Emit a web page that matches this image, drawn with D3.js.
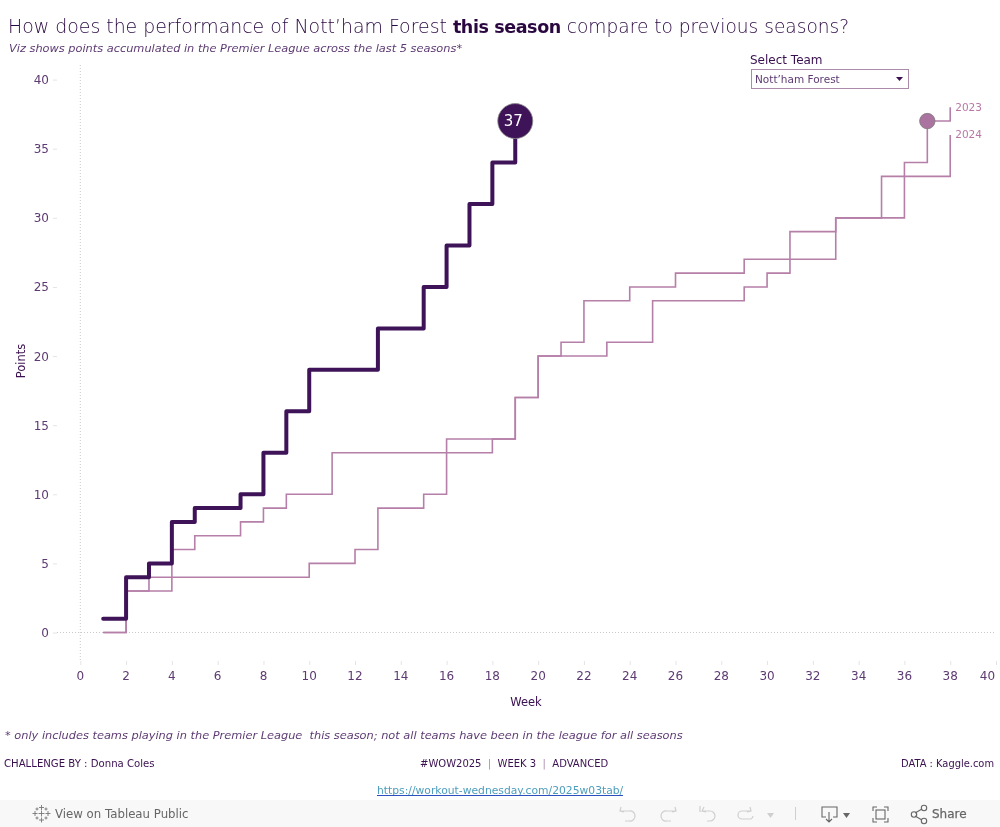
<!DOCTYPE html>
<html><head><meta charset="utf-8">
<script src="https://cdn.jsdelivr.net/npm/d3@7"></script>
<style>
html,body{margin:0;padding:0;background:#fff;overflow:hidden}
svg{display:block;will-change:transform}
text{font-family:"DejaVu Sans",sans-serif;white-space:pre}
</style></head><body>
<svg id="c" width="1000" height="827"></svg>
<script>
const weeks=[1,2,3,4,5,6,7,8,9,10,11,12,13,14,15,16,17,18,19,20,21,22,23,24,25,26,27,28,29,30,31,32,33,34,35,36,37,38];
const points2025=[1,4,5,8,9,9,10,13,16,19,19,19,22,22,25,28,31,34,37];
const points2023=[0,3,4,4,4,4,4,4,4,5,5,6,9,9,10,14,14,14,17,20,20,20,21,21,24,24,24,24,25,26,29,29,30,30,30,34,37,38];
const points2024=[0,3,3,6,7,7,8,9,10,10,13,13,13,13,13,13,13,14,17,20,21,24,24,25,25,26,26,26,27,27,27,27,30,30,33,33,33,36];
const xTicks=d3.range(0,41,2);
const yTicks=[0,5,10,15,20,25,30,35,40];
const dark="#3f1358",mid="#b57fa8",txt="#5d3a72",ink="#3a1050";
const svg=d3.select("#c");
const x=d3.scaleLinear().domain([0,40]).range([80.3,996]);
const y=d3.scaleLinear().domain([0,40]).range([632.5,79.6]);

svg.append("line").attr("x1",x(0)).attr("x2",x(0)).attr("y1",65).attr("y2",660).attr("stroke","#c9c9c9").attr("stroke-dasharray","1 2");
svg.append("line").attr("x1",57).attr("x2",996).attr("y1",y(0)).attr("y2",y(0)).attr("stroke","#c9c9c9").attr("stroke-dasharray","1 2");

const gy=svg.append("g").attr("transform","translate(57,0)").call(d3.axisLeft(y).tickValues(yTicks).tickSize(4).tickPadding(4));
gy.select(".domain").remove();
gy.selectAll("line").attr("stroke","#e4e4e4");
gy.selectAll("text").attr("fill",txt).style("font-size","12px").attr("dy","0.33em");
const gx=svg.append("g").attr("transform","translate(0,661)").call(d3.axisBottom(x).tickValues(xTicks).tickSize(4).tickPadding(6));
gx.select(".domain").remove();
gx.selectAll("line").attr("stroke","#e4e4e4");
gx.selectAll("text").attr("fill",txt).style("font-size","12px").attr("dy","0.71em")
  .attr("x",d=>d===40?-9:-0.5);

const line=d3.line().x((d,i)=>x(weeks[i])).y(d=>y(d)).curve(d3.curveStepAfter);
[points2023,points2024].forEach(s=>{
  svg.append("path").datum(s).attr("d",line).attr("fill","none").attr("stroke",mid).attr("stroke-width",1.6).attr("stroke-linejoin","miter");
});
svg.append("path").datum(points2025).attr("d",line).attr("fill","none").attr("stroke",dark).attr("stroke-width",4).attr("stroke-linecap","round").attr("stroke-linejoin","round");

[["2023",points2023],["2024",points2024]].forEach(([n,s])=>{
  svg.append("text").attr("x",x(38)+5).attr("y",y(s[s.length-1])).attr("dy","0.32em").attr("fill","#b878a6").style("font-size","10.5px").text(n);
});
const li=points2025.length-1;
svg.append("circle").attr("cx",x(weeks[li])).attr("cy",y(points2025[li])).attr("r",17.5).attr("fill",dark).attr("stroke","#8a8a8a").attr("stroke-width",.8);
svg.append("text").attr("x",x(weeks[li])-2).attr("y",y(points2025[li])).attr("dy","0.36em").attr("text-anchor","middle").attr("fill","#fff").style("font-size","15px").text(points2025[li]);
svg.append("circle").attr("cx",x(weeks[36])).attr("cy",y(points2023[36])).attr("r",7.7).attr("fill","#ab739f").attr("stroke","#7b7b7b").attr("stroke-width",.8);

const title=svg.append("text").attr("x",8).attr("y",32.5).attr("fill","#2a0740").style("font-size","18.9px").style("font-weight",200);
title.append("tspan").text("How does the performance of Nott’ham Forest ");
title.append("tspan").style("font-weight",700).style("font-size","17.5px").style("letter-spacing","-0.4px").text("this season");
title.append("tspan").style("font-size","18.6px").text(" compare to previous seasons?");
svg.append("text").attr("x",9).attr("y",52).attr("fill",txt).style("font-size","11.35px").style("font-style","italic").text("Viz shows points accumulated in the Premier League across the last 5 seasons*");

svg.append("text").attr("transform","translate(25,361) rotate(-90)").attr("text-anchor","middle").attr("fill",ink).style("font-size","11.5px").text("Points");
svg.append("text").attr("x",526).attr("y",706).attr("text-anchor","middle").attr("fill",ink).style("font-size","11.5px").text("Week");

svg.append("text").attr("x",750).attr("y",64).attr("fill",ink).style("font-size","12px").text("Select Team");
svg.append("rect").attr("x",751.5).attr("y",69.5).attr("width",157).attr("height",19).attr("fill","#fff").attr("stroke","#ab8aaa");
svg.append("text").attr("x",755).attr("y",83).attr("fill",txt).style("font-size","10.5px").text("Nott’ham Forest");
svg.append("path").attr("d","M896 77h7l-3.5 4z").attr("fill",ink);

svg.append("text").attr("x",5).attr("y",739).attr("fill",txt).style("font-size","11.35px").style("font-style","italic").text("* only includes teams playing in the Premier League  this season; not all teams have been in the league for all seasons");
svg.append("text").attr("x",4).attr("y",767).attr("fill",ink).style("font-size","10.15px").text("CHALLENGE BY : Donna Coles");
const mid2=svg.append("text").attr("x",420).attr("y",767).attr("fill",ink).style("font-size","10px");
mid2.append("tspan").text("#WOW2025  ");
mid2.append("tspan").attr("fill","#ab8aaa").text("|");
mid2.append("tspan").text("  WEEK 3  ");
mid2.append("tspan").attr("fill","#ab8aaa").text("|");
mid2.append("tspan").text("  ADVANCED");
svg.append("text").attr("x",994).attr("y",767).attr("text-anchor","end").attr("fill",ink).style("font-size","9.9px").text("DATA : Kaggle.com");
svg.append("text").attr("x",377).attr("y",794).attr("fill","#4d9dbd").style("font-size","10.75px").text("https://workout-wednesday.com/2025w03tab/");
svg.append("line").attr("x1",377).attr("x2",623).attr("y1",795.5).attr("y2",795.5).attr("stroke","#2b4fbf");

svg.append("rect").attr("x",0).attr("y",800).attr("width",1000).attr("height",27).attr("fill","#f8f8f8");
const lg=svg.append("g").attr("fill","none").attr("stroke","#777").attr("stroke-width",.9);
[[41.5,807.5,2.5],[41.5,820,2.5],[35,813.5,2.5],[48,813.5,2.5],[37,809,1.5],[46,809,1.5],[37,818,1.5],[46,818,1.5],[41.5,813.5,3]].forEach(([a,b,r])=>{
  lg.append("path").attr("d",`M${a-r} ${b}h${2*r}M${a} ${b-r}v${2*r}`);
});
svg.append("text").attr("x",55).attr("y",818).attr("fill","#666").style("font-size","11.75px").text("View on Tableau Public");
const ic=svg.append("g").attr("fill","none").attr("stroke","#cfcfcf").attr("stroke-width",1.2);
ic.append("path").attr("d","M621 807l-1 4 4 1M620 811h9a5 5 0 0 1 6 5 5 5 0 0 1-6 5h-4");
ic.append("path").attr("d","M675 807l1 4-4 1M676 811h-9a5 5 0 0 0-6 5 5 5 0 0 0 6 5h4");
ic.append("path").attr("d","M700 806v6M704 807l-2 4 4 1M702 811h8a5 5 0 0 1 5 5 5 5 0 0 1-5 5h-3");
ic.append("path").attr("d","M750 807l1 4-4 1M751 811h-9a4 4 0 0 0 0 8h9a4 4 0 0 0 2-3");
svg.append("path").attr("d","M767 813h7l-3.5 5z").attr("fill","#cfcfcf");
svg.append("line").attr("x1",795.5).attr("x2",795.5).attr("y1",807).attr("y2",820).attr("stroke","#cfcfcf");
const ic2=svg.append("g").attr("fill","none").attr("stroke","#666").attr("stroke-width",1.1);
ic2.append("path").attr("d","M826 817h-4v-10h15v10h-4M829 812v9M826 819l3 3 3-3");
svg.append("path").attr("d","M843 813h7l-3.5 5z").attr("fill","#666");
ic2.append("path").attr("d","M873 811v-4h4M884 807h4v4M888 818v4h-4M877 822h-4v-4");
ic2.append("rect").attr("x",876).attr("y",810).attr("width",9).attr("height",9);
ic2.append("path").attr("d","M915 813l7-4M915 816l7 4");
[[914,814.5],[924,808],[924,821]].forEach(p=>ic2.append("circle").attr("cx",p[0]).attr("cy",p[1]).attr("r",2.7));
svg.append("text").attr("x",932).attr("y",818).attr("fill","#666").attr("stroke","#666").attr("stroke-width",.25).style("font-size","12px").text("Share");
</script>
</body></html>
